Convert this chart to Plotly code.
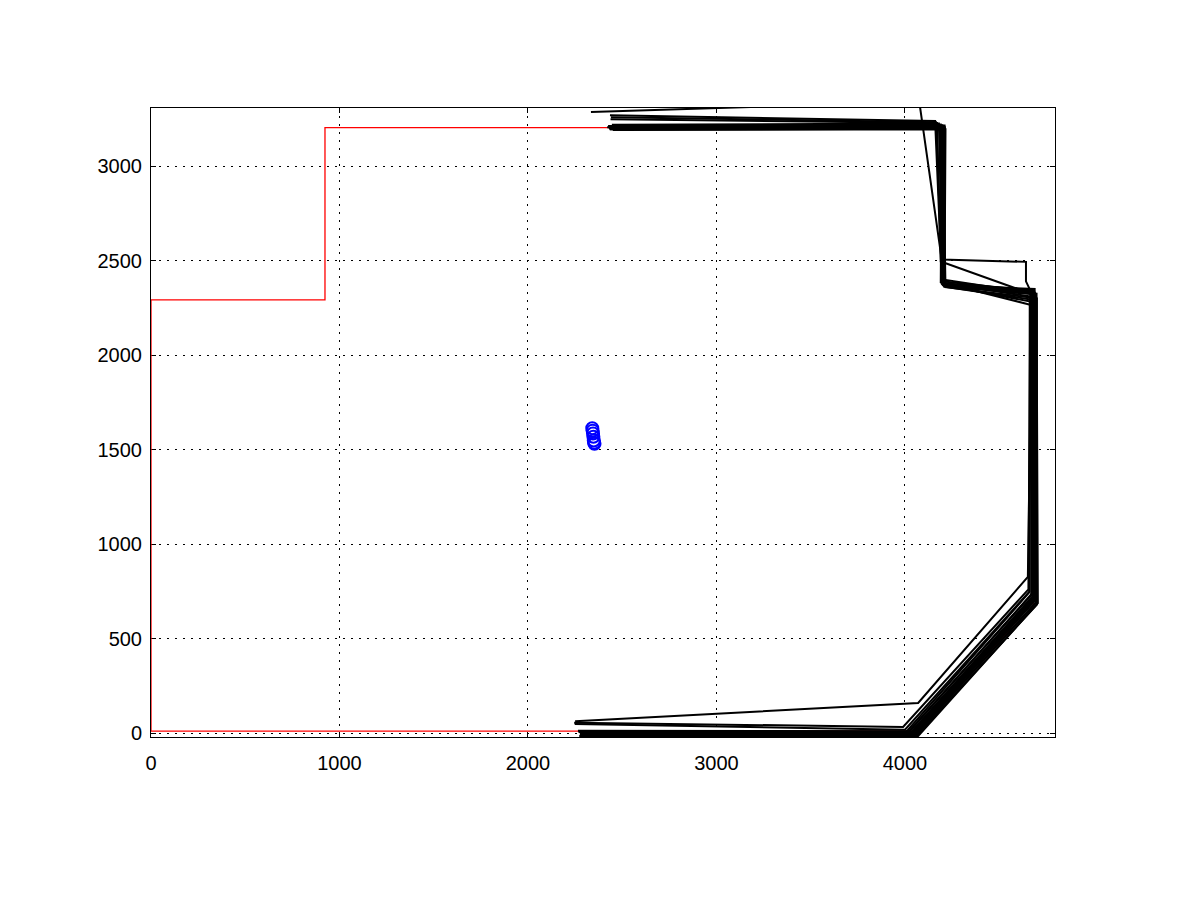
import plotly.graph_objects as go

# Reference route (red)
route_x = [2430, 923, 923, 0, 0, 4040, 4680, 4680, 4200, 4200, 2430]
route_y = [3203, 3203, 2292, 2292, 10, 10, 670, 2330, 2370, 3203, 3203]

# Driven laps (black) - one list per lap
lap_x = [
    [2275, 4030, 4680, 4685, 4200, 4205, 2430],
    [2285, 4040, 4690, 4690, 4205, 4210, 2440],
    [2290, 4050, 4695, 4695, 4210, 4215, 2450],
    [2270, 4020, 4670, 4675, 4195, 4190, 2425],
    [2280, 4060, 4700, 4700, 4215, 4200, 2435],
    [2295, 4035, 4685, 4680, 4200, 4180, 2445],
    [2265, 4025, 4675, 4670, 4190, 4195, 2420],
    [2288, 4045, 4690, 4688, 4205, 4212, 2438],
    [2278, 4055, 4698, 4692, 4208, 4185, 2428],
    [2283, 4028, 4678, 4683, 4198, 4200, 2433],
    [2272, 4070, 4705, 4698, 4212, 4208, 2442],
    [2268, 4005, 4660, 4662, 4196, 4198, 2427],
    [2250, 4070, 4652, 4675, 4200, 4205, 2430],
    [2245, 3990, 4655, 4665, 4202, 4208, 2432],
    [2248, 4000, 4660, 4668, 4198, 4203, 2436],
    [2280, 4035, 4680, 4680, 4642, 4642, 4195, 4076, 2334],
    [2276, 4038, 4684, 4682, 4196, 4160, 2435],
    [2282, 4042, 4688, 4684, 4198, 4165, 2440],
    [2286, 4046, 4690, 4686, 4190, 4170, 2438],
]
lap_y = [
    [-5, -5, 715, 2340, 2375, 3205, 3200],
    [5, 5, 705, 2330, 2370, 3215, 3210],
    [-15, -12, 690, 2320, 2365, 3195, 3190],
    [10, 8, 730, 2345, 2380, 3220, 3212],
    [-20, -18, 680, 2300, 2360, 3200, 3195],
    [0, -2, 720, 2280, 2372, 3225, 3218],
    [12, 10, 740, 2265, 2385, 3210, 3205],
    [-8, -10, 700, 2350, 2368, 3205, 3198],
    [-12, -15, 695, 2290, 2362, 3212, 3202],
    [3, 0, 725, 2335, 2378, 3198, 3194],
    [-16, -16, 688, 2325, 2366, 3208, 3200],
    [6, 4, 745, 2310, 2382, 3216, 3208],
    [62, 159, 826, 2340, 2375, 3205, 3200],
    [55, 32, 760, 2330, 2372, 3210, 3204],
    [48, 18, 748, 2325, 2378, 3200, 3196],
    [0, -3, 712, 2310, 2390, 2493, 2505, 3340, 3286],
    [-3, -4, 718, 2338, 2390, 3238, 3268],
    [2, 1, 710, 2326, 2400, 3232, 3258],
    [-6, -7, 708, 2318, 2495, 3228, 3248],
]

# Estimated positions (blue circles)
est_x = [2341, 2343, 2345, 2347, 2349, 2351, 2353]
est_y = [1613, 1600, 1585, 1568, 1548, 1536, 1530]

x_ticks = [0, 1000, 2000, 3000, 4000]
y_ticks = [0, 500, 1000, 1500, 2000, 2500, 3000]

fig = go.Figure()
fig.add_trace(go.Scatter(x=route_x, y=route_y, mode="lines",
                         line=dict(color="#ff0000", width=1.3), showlegend=False))

bx, by = [], []
for xs, ys in zip(lap_x, lap_y):
    bx += xs + [None]
    by += ys + [None]
fig.add_trace(go.Scatter(x=bx, y=by, mode="lines",
                         line=dict(color="black", width=2), showlegend=False))

fig.add_trace(go.Scatter(x=est_x, y=est_y, mode="markers",
                         marker=dict(symbol="circle-open", size=12, color="#0000ff",
                                     line=dict(width=2, color="#0000ff")),
                         showlegend=False))

axis_common = dict(
    showline=True, linecolor="black", linewidth=1, mirror="ticks",
    ticks="inside", ticklen=5, tickcolor="black", tickwidth=1,
    showgrid=True, gridcolor="black", gridwidth=1, griddash="2px,6px",
    zeroline=False, layer="below traces",
    tickfont=dict(family="Liberation Sans, Arial", size=20, color="black"),
)
fig.update_xaxes(range=[0, 4796], tickvals=x_ticks, ticktext=[str(v) for v in x_ticks],
                 ticklabelstandoff=8, **axis_common)
fig.update_yaxes(range=[-21, 3307], tickvals=y_ticks, ticktext=[str(v) for v in y_ticks],
                 ticklabelstandoff=4, **axis_common)

fig.update_layout(
    width=1200, height=902,
    margin=dict(l=151, r=145, t=108, b=165),
    plot_bgcolor="white", paper_bgcolor="white",
    font=dict(family="Liberation Sans, Arial", color="black"),
)

fig.write_html("out.html")
